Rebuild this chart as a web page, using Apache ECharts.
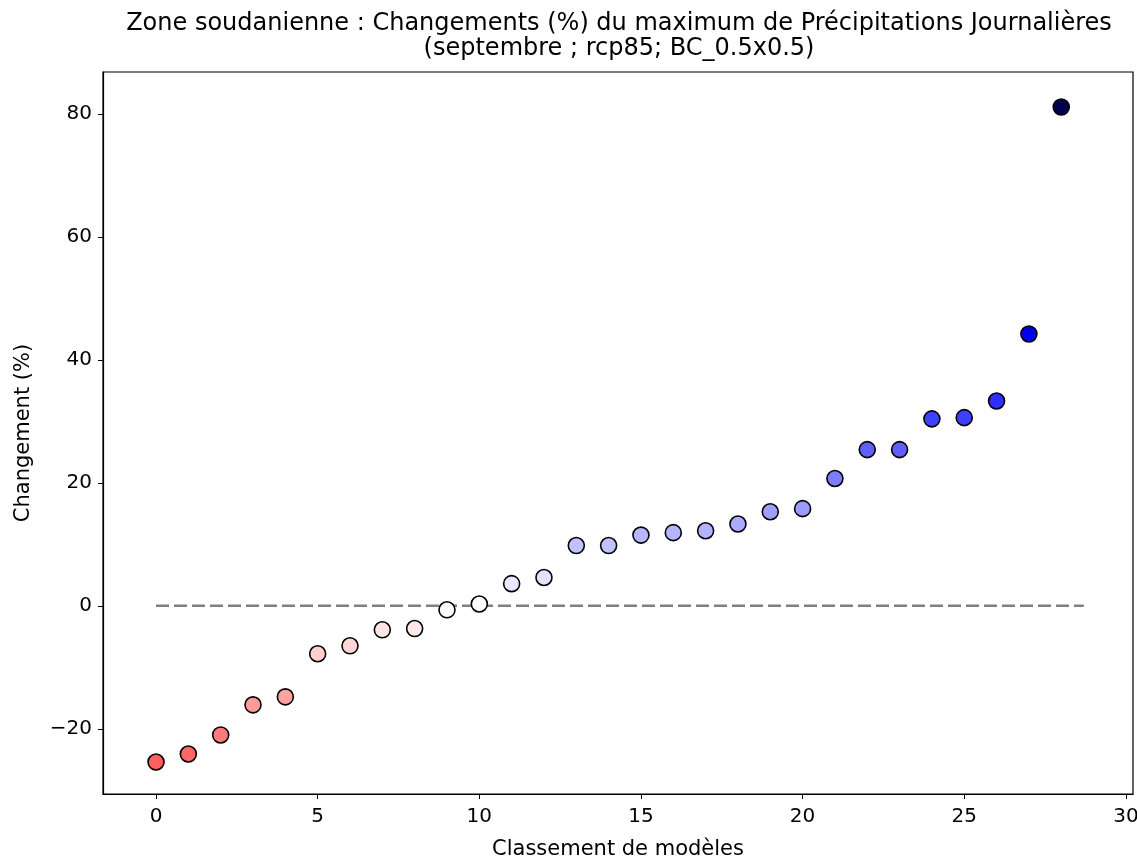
<!DOCTYPE html>
<html>
<head>
<meta charset="utf-8">
<script src="https://cdn.jsdelivr.net/npm/echarts@6/dist/echarts.min.js"></script>
<style>html,body{margin:0;padding:0;background:#fff}#c{width:1137px;height:861px}</style>
</head>
<body>
<div id="c"></div>
<script>
const ranks = [0,1,2,3,4,5,6,7,8,9,10,11,12,13,14,15,16,17,18,19,20,21,22,23,24,25,26,27,28];
const changes = [-25.4,-24.1,-21.0,-16.1,-14.8,-7.8,-6.5,-3.9,-3.7,-0.65,0.3,3.6,4.6,9.8,9.8,11.5,11.9,12.2,13.3,15.3,15.8,20.7,25.4,25.4,30.4,30.6,33.3,44.2,81.1];
const xTicks = [0,5,10,15,20,25,30];
const yTicks = [-20,0,20,40,60,80];
const refLineX = [0, 28.7];
const refLineY = [0, 0];

const vmax = Math.max(...changes.map(Math.abs));
const FONT = 'DejaVu Sans';
const chart = echarts.init(document.getElementById('c'));
chart.setOption({
  animation: false,
  backgroundColor: '#fff',
  title: {
    text: 'Zone soudanienne : Changements (%) du maximum de Précipitations Journalières\n(septembre ; rcp85; BC_0.5x0.5)',
    left: 614, top: 6, textAlign: 'center',
    textStyle: {fontFamily: FONT, fontSize: 24, fontWeight: 'normal', color: '#000', lineHeight: 25}
  },
  grid: {left: 103, right: 4, top: 72, bottom: 67, outerBoundsMode: 'none', containLabel: false,
    show: true, borderColor: '#000', borderWidth: 1.2, backgroundColor: 'transparent'},
  visualMap: {
    show: false, type: 'continuous', seriesIndex: 0, dimension: 1,
    min: -vmax, max: vmax,
    inRange: {color: ['#800000', '#ff0000', '#ffffff', '#0000ff', '#00004d']}
  },
  xAxis: {
    type: 'value', min: -1.64, max: 30.22,
    name: 'Classement de modèles', nameLocation: 'middle', nameGap: 45,
    nameTextStyle: {fontFamily: FONT, fontSize: 21, color: '#000'},
    axisLine: {show: true, onZero: false, lineStyle: {color: '#000', width: 1.2}},
    axisTick: {show: true, length: 5, customValues: xTicks, lineStyle: {color: '#000'}},
    axisLabel: {customValues: xTicks, fontFamily: FONT, fontSize: 20, color: '#000', margin: 13},
    splitLine: {show: false}
  },
  yAxis: {
    type: 'value', min: -30.6, max: 86.8,
    name: 'Changement (%)', nameLocation: 'middle', nameGap: 69, nameRotate: 90,
    nameTextStyle: {fontFamily: FONT, fontSize: 21, color: '#000'},
    axisLine: {show: true, onZero: false, lineStyle: {color: '#000', width: 1.2}},
    axisTick: {show: true, length: 5, customValues: yTicks, lineStyle: {color: '#000'}},
    axisLabel: {customValues: yTicks, fontFamily: FONT, fontSize: 20, color: '#000', margin: 11,
      formatter: v => String(v).replace('-', '\u2212')},
    splitLine: {show: false}
  },
  series: [
    {
      type: 'scatter', z: 3,
      data: ranks.map((r, i) => [r, changes[i]]),
      symbol: 'circle', symbolSize: 16,
      itemStyle: {borderColor: '#000', borderWidth: 1.6, opacity: 1}
    },
    {
      type: 'line', z: 2, symbol: 'none', silent: true,
      data: refLineX.map((x, i) => [x, refLineY[i]]),
      lineStyle: {color: '#808080', width: 2.4, type: [13, 5]}
    }
  ]
});
</script>
</body>
</html>
